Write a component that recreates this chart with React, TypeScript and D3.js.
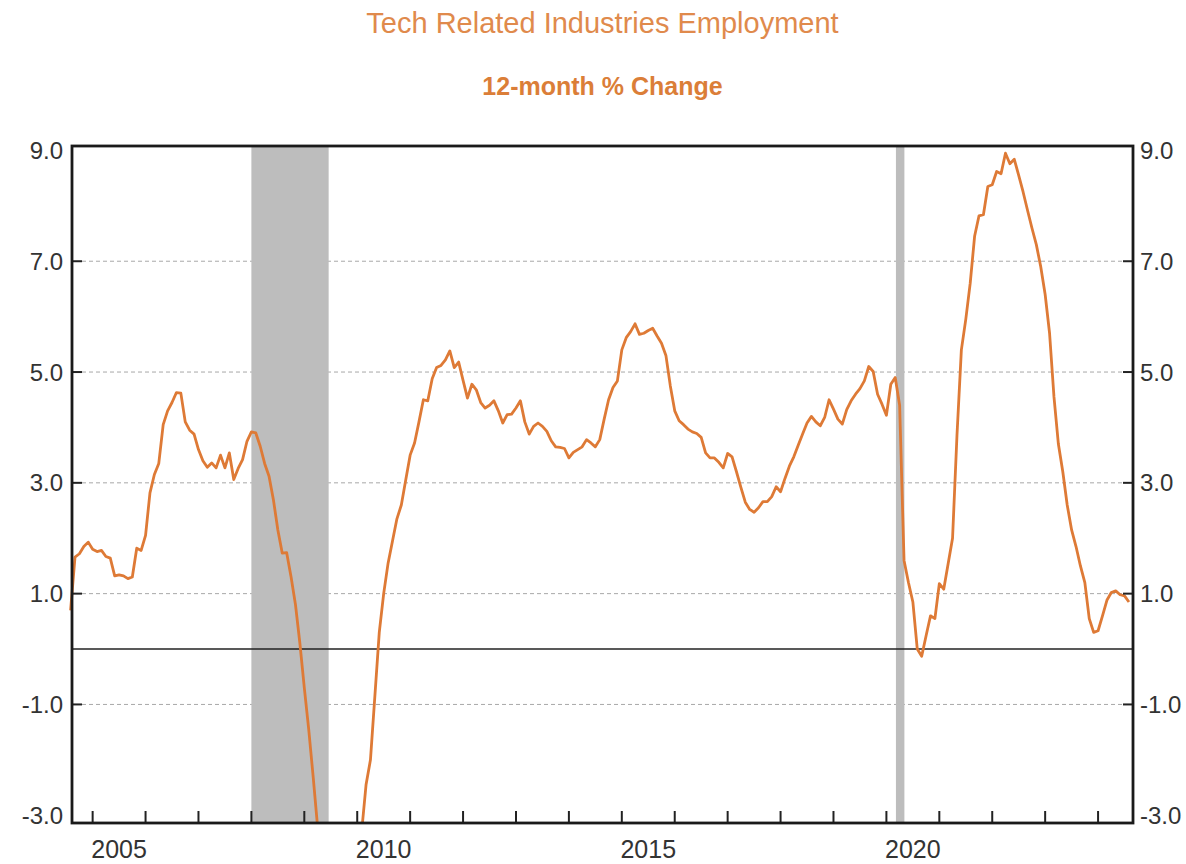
import { useMemo } from 'react'
import * as d3 from 'd3'

const width = 1186
const height = 864
const margin = { top: 146, right: 53, bottom: 41, left: 72 }

// monthly 12-month % change, first point Aug 2004
const startYear = 2004
const startMonth = 8

const values2004 = [0.7, 1.66, 1.72, 1.85, 1.93]
const values2005 = [1.8, 1.76, 1.78, 1.67, 1.64, 1.32, 1.34, 1.32, 1.27, 1.3, 1.82, 1.78]
const values2006 = [2.05, 2.82, 3.15, 3.35, 4.05, 4.3, 4.45, 4.63, 4.62, 4.1, 3.95, 3.88]
const values2007 = [3.6, 3.4, 3.28, 3.36, 3.27, 3.5, 3.27, 3.54, 3.06, 3.26, 3.42, 3.75]
const values2008 = [3.92, 3.9, 3.66, 3.35, 3.12, 2.69, 2.15, 1.73, 1.74, 1.3, 0.8, 0.1]
const values2009 = [-0.7, -1.45, -2.3, -3.2, -4.0, -4.8, -5.3, -5.6, -5.5, -5.2, -4.7, -4.2]
const values2010 = [-3.6, -3.3, -2.45, -2.0, -0.85, 0.3, 1.0, 1.55, 1.95, 2.35, 2.6, 3.05]
const values2011 = [3.5, 3.72, 4.1, 4.5, 4.48, 4.88, 5.08, 5.12, 5.22, 5.38, 5.08, 5.18]
const values2012 = [4.85, 4.53, 4.78, 4.68, 4.45, 4.35, 4.4, 4.48, 4.3, 4.08, 4.23, 4.24]
const values2013 = [4.35, 4.48, 4.1, 3.88, 4.02, 4.08, 4.02, 3.93, 3.76, 3.65, 3.64, 3.62]
const values2014 = [3.45, 3.55, 3.6, 3.65, 3.78, 3.72, 3.65, 3.78, 4.15, 4.5, 4.72, 4.84]
const values2015 = [5.4, 5.62, 5.73, 5.87, 5.68, 5.7, 5.75, 5.79, 5.65, 5.52, 5.3, 4.75]
const values2016 = [4.3, 4.12, 4.05, 3.97, 3.92, 3.89, 3.82, 3.54, 3.45, 3.45, 3.37, 3.27]
const values2017 = [3.53, 3.47, 3.2, 2.92, 2.65, 2.52, 2.47, 2.55, 2.66, 2.66, 2.75, 2.93]
const values2018 = [2.84, 3.08, 3.3, 3.47, 3.68, 3.88, 4.08, 4.2, 4.1, 4.03, 4.18, 4.5]
const values2019 = [4.33, 4.15, 4.06, 4.32, 4.48, 4.6, 4.7, 4.84, 5.1, 5.01, 4.6, 4.42]
const values2020 = [4.22, 4.78, 4.9, 4.4, 1.6, 1.2, 0.85, 0.0, -0.13, 0.24, 0.6, 0.55]
const values2021 = [1.18, 1.08, 1.54, 2.0, 3.85, 5.4, 5.95, 6.6, 7.45, 7.82, 7.84, 8.35]
const values2022 = [8.38, 8.62, 8.58, 8.95, 8.76, 8.84, 8.55, 8.25, 7.92, 7.6, 7.3, 6.9]
const values2023 = [6.4, 5.7, 4.55, 3.7, 3.2, 2.6, 2.15, 1.85, 1.5, 1.2, 0.55, 0.3]
const values2024 = [0.33, 0.6, 0.88, 1.02, 1.05, 0.98, 0.96, 0.85]

const series = [
  ...values2004, ...values2005, ...values2006, ...values2007, ...values2008,
  ...values2009, ...values2010, ...values2011, ...values2012, ...values2013,
  ...values2014, ...values2015, ...values2016, ...values2017, ...values2018,
  ...values2019, ...values2020, ...values2021, ...values2022, ...values2023,
  ...values2024,
]

const yTickValues = [-3, -1, 1, 3, 5, 7, 9]
const gridValues = [-1, 1, 3, 5, 7]
const yearTicks = d3.range(2005, 2025)
const yearLabels = [2005, 2010, 2015, 2020]
const recessions = [
  { start: 2008.0, end: 2009.46 },
  { start: 2020.18, end: 2020.34 },
]

const font = '"Liberation Sans", Arial, sans-serif'
const lineColor = '#DE7A36'

export default function App() {
  const plot = useMemo(() => {
    const x0 = margin.left
    const x1 = width - margin.right
    const y0 = margin.top
    const y1 = height - margin.bottom

    const xScale = d3.scaleLinear().domain([2004.61, 2024.66]).range([x0, x1])
    const yScale = d3.scaleLinear().domain([-3.14, 9.08]).range([y1, y0])

    const points = series.map((v, i) => ({
      t: startYear + (startMonth - 1 + i) / 12,
      v,
    }))

    const path = d3
      .line<{ t: number; v: number }>()
      .x((d) => xScale(d.t))
      .y((d) => yScale(d.v))(points)

    return { x0, x1, y0, y1, xScale, yScale, path }
  }, [])

  const { x0, x1, y0, y1, xScale, yScale } = plot
  const tickLen = 10

  return (
    <svg
      width={width}
      height={height}
      style={{ position: 'absolute', left: 0, top: 0, background: '#fff' }}
      fontFamily={font}
    >
      <defs>
        <clipPath id="plotClip">
          <rect x={0} y={y0} width={width} height={y1 - y0} />
        </clipPath>
      </defs>

      <text x={(x0 + x1) / 2} y={33} textAnchor="middle" fontSize={29} fill="#E08A4C">
        Tech Related Industries Employment
      </text>
      <text x={(x0 + x1) / 2} y={95} textAnchor="middle" fontSize={25} fontWeight="bold" fill="#DB7E38">
        12-month % Change
      </text>

      {/* grid */}
      {gridValues.map((v) => (
        <line
          key={`g${v}`}
          x1={x0 + tickLen}
          x2={x1 - tickLen}
          y1={yScale(v)}
          y2={yScale(v)}
          stroke="#a8a8a8"
          strokeWidth={1}
          strokeDasharray="4 3"
        />
      ))}

      {/* recession shading */}
      {recessions.map((r) => (
        <rect
          key={r.start}
          x={xScale(r.start)}
          y={y0}
          width={xScale(r.end) - xScale(r.start)}
          height={y1 - y0}
          fill="#bdbdbd"
        />
      ))}

      <line x1={x0} x2={x1} y1={yScale(0)} y2={yScale(0)} stroke="#222" strokeWidth={1.5} />

      <path d={plot.path ?? ''} fill="none" stroke={lineColor} strokeWidth={2.8} strokeLinejoin="round" clipPath="url(#plotClip)" />

      {/* y ticks both sides */}
      {gridValues.map((v) => (
        <g key={`t${v}`} stroke="#222" strokeWidth={2}>
          <line x1={x0} x2={x0 + tickLen} y1={yScale(v)} y2={yScale(v)} />
          <line x1={x1 - tickLen} x2={x1} y1={yScale(v)} y2={yScale(v)} />
        </g>
      ))}

      {/* x ticks */}
      {yearTicks.map((yr) => (
        <line key={`x${yr}`} x1={xScale(yr)} x2={xScale(yr)} y1={y1} y2={y1 - 12} stroke="#222" strokeWidth={2} />
      ))}

      <rect x={x0} y={y0} width={x1 - x0} height={y1 - y0} fill="none" stroke="#1a1a1a" strokeWidth={2.8} />

      {yTickValues.map((v) => (
        <g key={`l${v}`} fontSize={24} fill="#333">
          <text x={x0 - 9} y={yScale(v)} dy="0.36em" textAnchor="end">
            {v.toFixed(1)}
          </text>
          <text x={x1 + 7} y={yScale(v)} dy="0.36em" textAnchor="start">
            {v.toFixed(1)}
          </text>
        </g>
      ))}

      {yearLabels.map((yr) => (
        <text key={`y${yr}`} x={xScale(yr + 0.5)} y={858} textAnchor="middle" fontSize={25} fill="#333">
          {yr}
        </text>
      ))}
    </svg>
  )
}
